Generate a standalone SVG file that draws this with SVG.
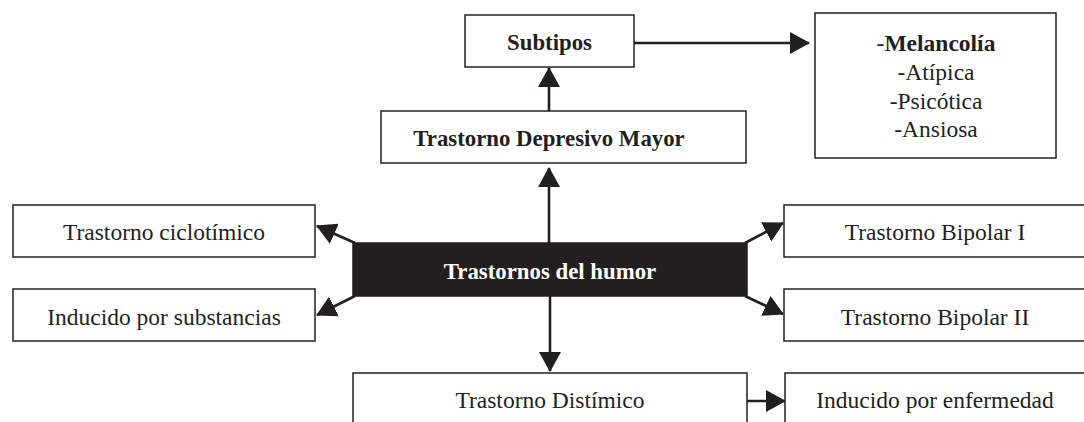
<svg xmlns="http://www.w3.org/2000/svg" width="1084" height="422" viewBox="0 0 1084 422">
<style>
.box{fill:#fff;stroke:#231f20;stroke-width:1.5}
.dark{fill:#231f20;stroke:#231f20;stroke-width:1.5}
.t{font-family:"Liberation Serif","Times New Roman",serif;font-size:23.5px;fill:#231f20;text-anchor:middle}
.b{font-weight:bold;font-size:22.8px}
.w{fill:#fff}
.c{stroke:#231f20;stroke-width:2.6;fill:none}
</style>
<defs>
<marker id="ah" markerUnits="userSpaceOnUse" markerWidth="20" markerHeight="22" refX="19" refY="11" orient="auto">
<path d="M0,0 L20,11 L0,22 z" fill="#231f20"/>
</marker>
</defs>
<rect width="1084" height="422" fill="#fff"/>
<g id="connectors">
<line class="c" x1="634" y1="43" x2="809" y2="43" marker-end="url(#ah)"/>
<line class="c" x1="549" y1="111" x2="549" y2="68" marker-end="url(#ah)"/>
<line class="c" x1="549" y1="243" x2="549" y2="168" marker-end="url(#ah)"/>
<line class="c" x1="355" y1="243" x2="317" y2="226" marker-end="url(#ah)"/>
<line class="c" x1="355" y1="296" x2="317" y2="315" marker-end="url(#ah)"/>
<line class="c" x1="745" y1="243" x2="783" y2="223" marker-end="url(#ah)"/>
<line class="c" x1="745" y1="296" x2="783" y2="314" marker-end="url(#ah)"/>
<line class="c" x1="550" y1="296" x2="550" y2="371" marker-end="url(#ah)"/>
<line class="c" x1="747" y1="401" x2="785" y2="401" marker-end="url(#ah)"/>
</g>
<g id="subtipos">
<rect class="box" x="465" y="15" width="169" height="52"/>
<text class="t b" x="549.5" y="50">Subtipos</text>
</g>
<g id="lista">
<rect class="box" x="815" y="13" width="241" height="145"/>
<text class="t" x="936" y="51">-<tspan font-weight="bold">Melancolía</tspan></text>
<text class="t" x="936" y="80">-Atípica</text>
<text class="t" x="936" y="109">-Psicótica</text>
<text class="t" x="936" y="137">-Ansiosa</text>
</g>
<g id="tdm">
<rect class="box" x="381" y="111" width="365" height="52"/>
<text class="t b" x="549" y="146">Trastorno Depresivo Mayor</text>
</g>
<g id="humor">
<rect class="dark" x="353" y="243" width="394" height="53"/>
<text class="t b w" x="550" y="279">Trastornos del humor</text>
</g>
<g id="ciclotimico">
<rect class="box" x="13" y="205" width="302" height="52"/>
<text class="t" x="164" y="240">Trastorno ciclotímico</text>
</g>
<g id="substancias">
<rect class="box" x="13" y="289" width="302" height="52"/>
<text class="t" x="164" y="325">Inducido por substancias</text>
</g>
<g id="bipolar1">
<rect class="box" x="784" y="205" width="310" height="52"/>
<text class="t" x="935" y="240">Trastorno Bipolar I</text>
</g>
<g id="bipolar2">
<rect class="box" x="784" y="289" width="310" height="52"/>
<text class="t" x="935" y="325">Trastorno Bipolar II</text>
</g>
<g id="distimico">
<rect class="box" x="353" y="373" width="394" height="60"/>
<text class="t" x="550" y="408">Trastorno Distímico</text>
</g>
<g id="enfermedad">
<rect class="box" x="785" y="373" width="310" height="60"/>
<text class="t" x="935" y="408">Inducido por enfermedad</text>
</g>
</svg>
